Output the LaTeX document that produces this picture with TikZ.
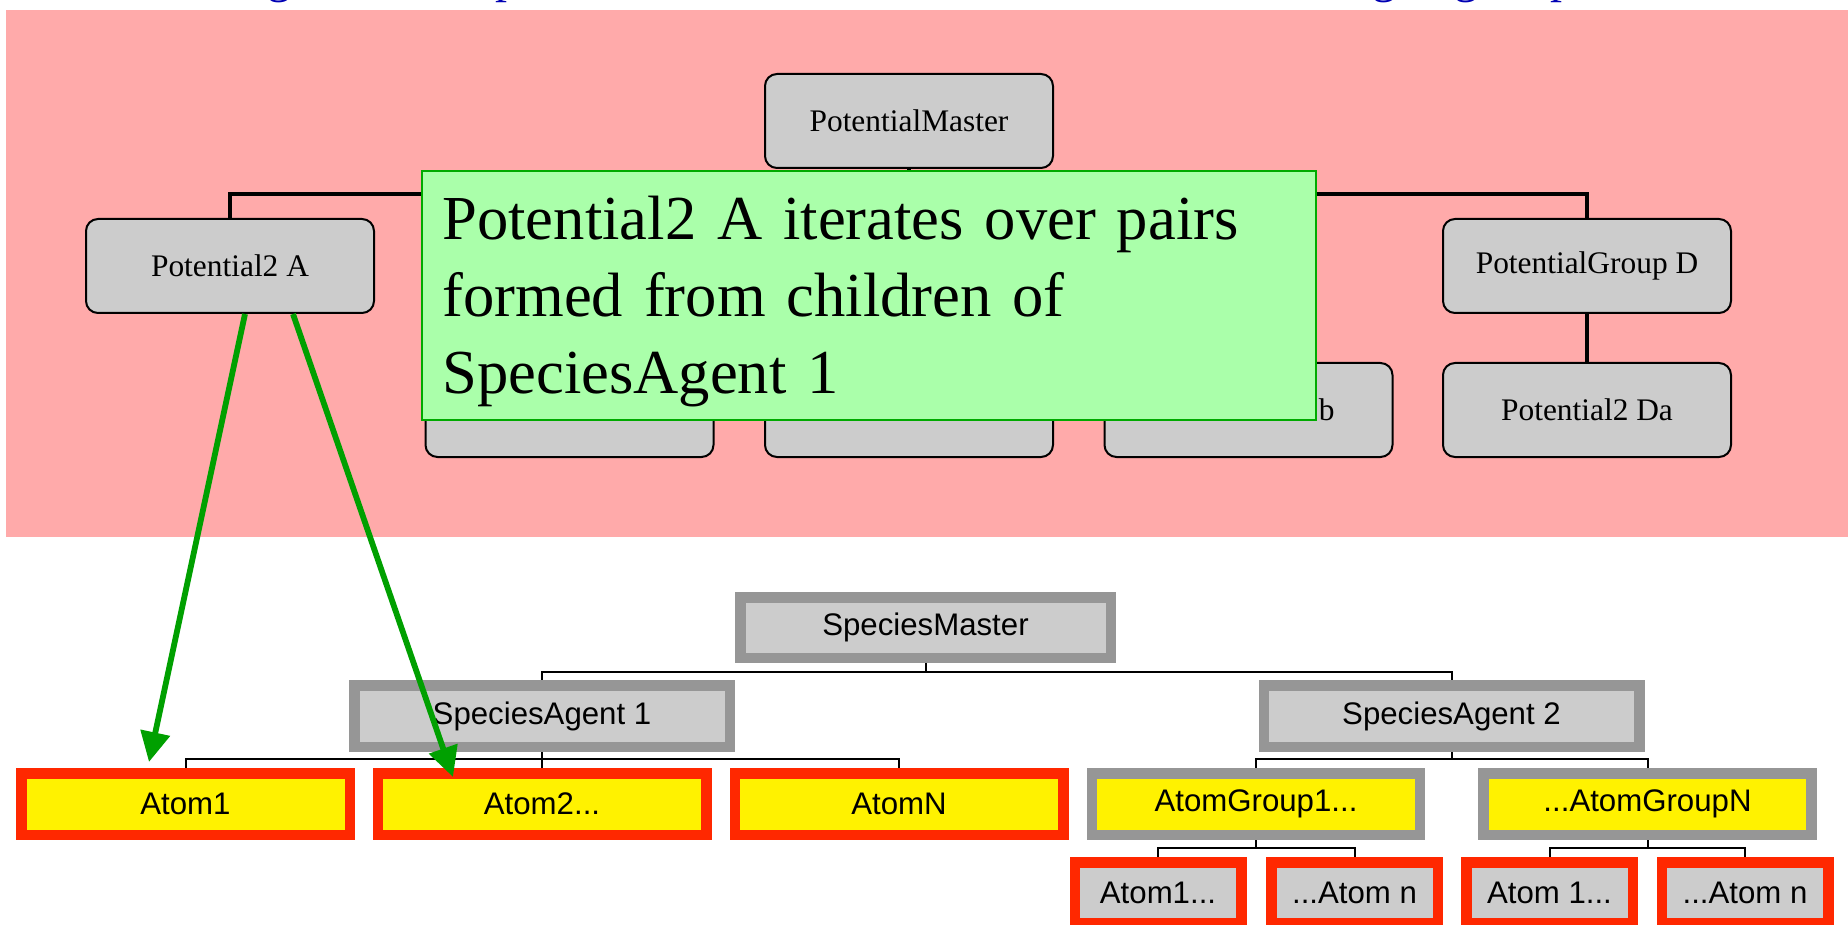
\documentclass[tikz,border=0pt]{standalone}
\usepackage{fontspec}
\setmainfont{Liberation Serif}
\setsansfont{Liberation Sans}
\usetikzlibrary{arrows.meta}
\definecolor{pinkbg}{RGB}{255,170,170}
\definecolor{boxgray}{RGB}{204,204,204}
\definecolor{bordergray}{RGB}{150,150,150}
\definecolor{atomred}{RGB}{255,40,0}
\definecolor{notegreen}{RGB}{170,255,170}
\definecolor{noteborder}{RGB}{0,170,0}
\definecolor{arrowgreen}{RGB}{0,160,0}
\definecolor{titleblue}{RGB}{0,0,180}
\begin{document}
\begin{tikzpicture}[x=0.5pt,y=-0.5pt,
  potbox/.style={draw=black, line width=1pt, fill=boxgray, rounded corners=6pt,
    minimum width=144pt, minimum height=47pt, inner sep=0pt,
    font=\fontsize{15.7}{18}\selectfont},
  topline/.style={draw=black, line width=2pt},
  notebox/.style={draw=noteborder, line width=1pt, fill=notegreen,
    minimum width=447pt, minimum height=124.5pt, inner sep=0pt},
  notetext/.style={inner sep=0pt, align=left, text width=430pt,
    font=\fontsize{31.3}{38.3}\selectfont},
  bx/.style={line width=5.25pt, inner sep=0pt, font=\sffamily\fontsize{15.6}{18}\selectfont},
  spbox/.style={bx, draw=bordergray, fill=boxgray},
  atombox/.style={bx, draw=atomred, fill=yellow},
  grpbox/.style={bx, draw=bordergray, fill=yellow},
  leafbox/.style={bx, draw=atomred, fill=boxgray},
  treeline/.style={draw=black, line width=1pt},
  greenarrow/.style={draw=arrowgreen, line width=2.9pt,
    -{Triangle[length=15pt,width=14.5pt]}},
  titlefrag/.style={inner sep=0pt, text=titleblue, font=\fontsize{24}{28}\selectfont}
]
\useasboundingbox (0,0) rectangle (1848,925);
\fill[white] (0,0) rectangle (1848,925);

% cut-off title (only descenders visible)
\begin{scope}
  \clip (0,0) rectangle (1848,10);
  \node[titlefrag, anchor=base] (tg1) at (279,-7.5) {g};
  \node[titlefrag, anchor=base] (tp1) at (507,-7.5) {p};
  \node[titlefrag, anchor=base] (tg2) at (1384,-7.5) {g};
  \node[titlefrag, anchor=base] (tg3) at (1466,-7.5) {g};
  \node[titlefrag, anchor=base] (tp2) at (1562,-7.5) {p};
\end{scope}

% pink panel
\fill[pinkbg] (6,10) rectangle (1848,537);

% potential tree
\node[potbox] (pm) at (909,121) {PotentialMaster};
\node[potbox] (pa) at (230,266) {Potential2 A};
\node[potbox] (pd) at (1587,266) {PotentialGroup D};
\node[potbox] (r1) at (569.5,410) {};
\node[potbox] (r2) at (909,410) {};
\node[potbox] (r3) at (1248.5,410) {Potential2 Cb};
\node[potbox] (pda) at (1587,410) {Potential2 Da};

\draw[topline] (pm.south) -- ++(0,25) -| (pa.north);
\draw[topline] (pm.south) -- ++(0,25) -| (pd.north);
\draw[topline] (pd.south) -- (pda.north);

% note
\node[notebox] (note) at (869,295.5) {};
\node[notetext, anchor=base west] (notetxt) at (442,240)
  {Potential2 A iterates over pairs\\formed from children of\\SpeciesAgent 1};

% species tree
\node[spbox, minimum width=185.25pt, minimum height=30.25pt] (sm) at (925.5,627.5) {SpeciesMaster};
\node[spbox, minimum width=187.75pt, minimum height=30.75pt] (sa1) at (542,716) {SpeciesAgent 1};
\node[spbox, minimum width=187.75pt, minimum height=30.75pt] (sa2) at (1451.5,716) {SpeciesAgent 2};

\node[atombox, minimum width=164.25pt, minimum height=30.75pt] (a1) at (185.5,804) {Atom1};
\node[atombox, minimum width=164.25pt, minimum height=30.75pt] (a2) at (542,804) {Atom2...};
\node[atombox, minimum width=164.25pt, minimum height=30.75pt] (an) at (899,804) {AtomN};
\node[grpbox, minimum width=164pt, minimum height=30.75pt] (g1) at (1256,804) {AtomGroup1...};
\node[grpbox, minimum width=164pt, minimum height=30.75pt] (gn) at (1647.5,804) {...AtomGroupN};

\node[leafbox, minimum width=83.25pt, minimum height=30.25pt] (l1) at (1158,892.5) {Atom1...};
\node[leafbox, minimum width=83.25pt, minimum height=30.25pt] (l2) at (1354.5,892.5) {...Atom n};
\node[leafbox, minimum width=83.25pt, minimum height=30.25pt] (l3) at (1549.5,892.5) {Atom 1...};
\node[leafbox, minimum width=83.25pt, minimum height=30.25pt] (l4) at (1745,892.5) {...Atom n};

\draw[treeline] (sm.south) -- ++(0,9) -| (sa1.north);
\draw[treeline] (sm.south) -- ++(0,9) -| (sa2.north);
\foreach \t in {a1,a2,an} \draw[treeline] (sa1.south) -- ++(0,7) -| (\t.north);
\foreach \t in {g1,gn} \draw[treeline] (sa2.south) -- ++(0,7) -| (\t.north);
\foreach \t in {l1,l2} \draw[treeline] (g1.south) -- ++(0,8) -| (\t.north);
\foreach \t in {l3,l4} \draw[treeline] (gn.south) -- ++(0,8) -| (\t.north);

% green arrows
\coordinate (tip1) at (149,762);
\coordinate (tip2) at (453,777);
\draw[greenarrow] ([xshift=7.5pt]pa.south) -- (tip1);
\draw[greenarrow] ([xshift=31.5pt]pa.south) -- (tip2);
\end{tikzpicture}
\end{document}
